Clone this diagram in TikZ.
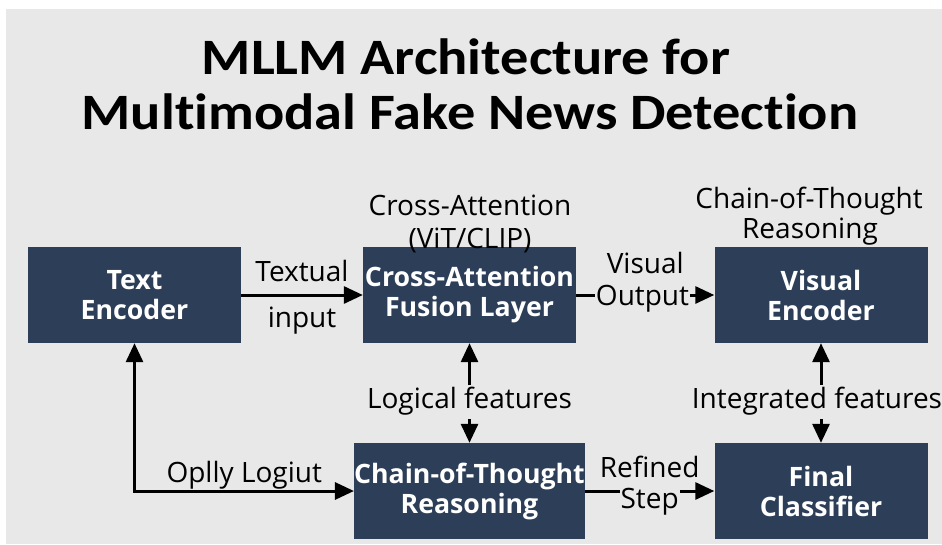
\documentclass[tikz,border=0pt]{standalone}
\usepackage{fontspec}
\setmainfont{Open Sans}
\newfontfamily\titlefont[Ligatures=NoCommon, FakeStretch=1.105]{Carlito}
\usetikzlibrary{arrows.meta}

\definecolor{pagebg}{RGB}{232,232,232}
\definecolor{boxnavy}{RGB}{44,62,88}

\tikzset{
  block/.style={fill=boxnavy, text=white, minimum width=213pt, minimum height=96pt,
    inner sep=0pt, align=center, font=\fontsize{26.7}{30}\selectfont\bfseries},
  lbl/.style={font=\fontsize{28}{33}\selectfont, text=black, inner sep=1pt},
  onbg/.style={lbl, fill=pagebg, inner sep=3pt},
  flow/.style={line width=3pt, -{Triangle[length=19pt,width=17pt]}},
  biflow/.style={line width=3pt, {Triangle[length=19pt,width=17pt]}-{Triangle[length=19pt,width=17pt]}},
}

\begin{document}
\begin{tikzpicture}[x=1pt, y=-1pt]
  % page frame and grey backdrop
  \fill[white] (0,0) rectangle (942,544);
  \fill[pagebg] (6,9) rectangle (942,544);
  \useasboundingbox (0,0) rectangle (942,544);

  % title
  \node[anchor=base, font=\titlefont\bfseries\fontsize{51}{55}\selectfont] (title1) at (466,74) {MLLM Architecture for};
  \node[anchor=base, font=\titlefont\bfseries\fontsize{51}{55}\selectfont] (title2) at (470,129) {Multimodal Fake News Detection};

  % processing blocks
  \node[block] (te)  at (134.5,295) {Text\\Encoder};
  \node[block] (fus) at (469.5,295) {Cross-Attention\\Fusion Layer};
  \node[block] (ve)  at (821,295)   {Visual\\Encoder};
  \node[block] (cot) at (469.5,491) {Chain-of-Thought\\Reasoning};
  \node[block] (fc)  at (821,491)   {Final\\Classifier};

  % captions above the top blocks
  \node[lbl, anchor=base] (capA) at (470,215) {Cross-Attention};
  \node[lbl, anchor=base] (capB) at (470,248) {(ViT/CLIP)};
  \node[lbl, anchor=base] (capC) at (809,208) {Chain-of-Thought};
  \node[lbl, anchor=base] (capD) at (810,238) {Reasoning};

  % text encoder -> fusion
  \draw[flow] (te) -- (fus)
    node[lbl, midway, anchor=base, yshift=14pt] (lt1) {Textual}
    node[lbl, midway, anchor=base, yshift=-32pt] (lt2) {input};

  % fusion -> visual encoder
  \draw[flow] (fus) -- (ve)
    node[onbg, pos=0.48, anchor=base, yshift=-10pt, inner sep=1pt] (lv2) {Output}
    node[lbl, pos=0.5, anchor=base, yshift=22pt] (lv1) {Visual};

  % fusion <-> chain-of-thought
  \draw[biflow] (fus) -- (cot)
    node[onbg, pos=0.54, anchor=base, yshift=-12pt] (ll) {Logical features};

  % visual encoder <-> classifier
  \draw[biflow] (ve) -- (fc)
    node[onbg, pos=0.54, anchor=base, yshift=-12pt, xshift=-4pt] (li) {Integrated features};

  % text encoder <-> chain-of-thought, routed below
  \draw[biflow] (te.south) |- (cot.west)
    node[lbl, pos=0.75, anchor=base, yshift=9pt] (lo) {Oplly Logiut};

  % chain-of-thought -> classifier
  \draw[flow] (cot) -- (fc)
    node[lbl, midway, anchor=base, yshift=14pt] (lr1) {Refined}
    node[onbg, midway, anchor=base, yshift=-17pt, inner sep=1pt] (lr2) {Step};
\end{tikzpicture}
\end{document}
